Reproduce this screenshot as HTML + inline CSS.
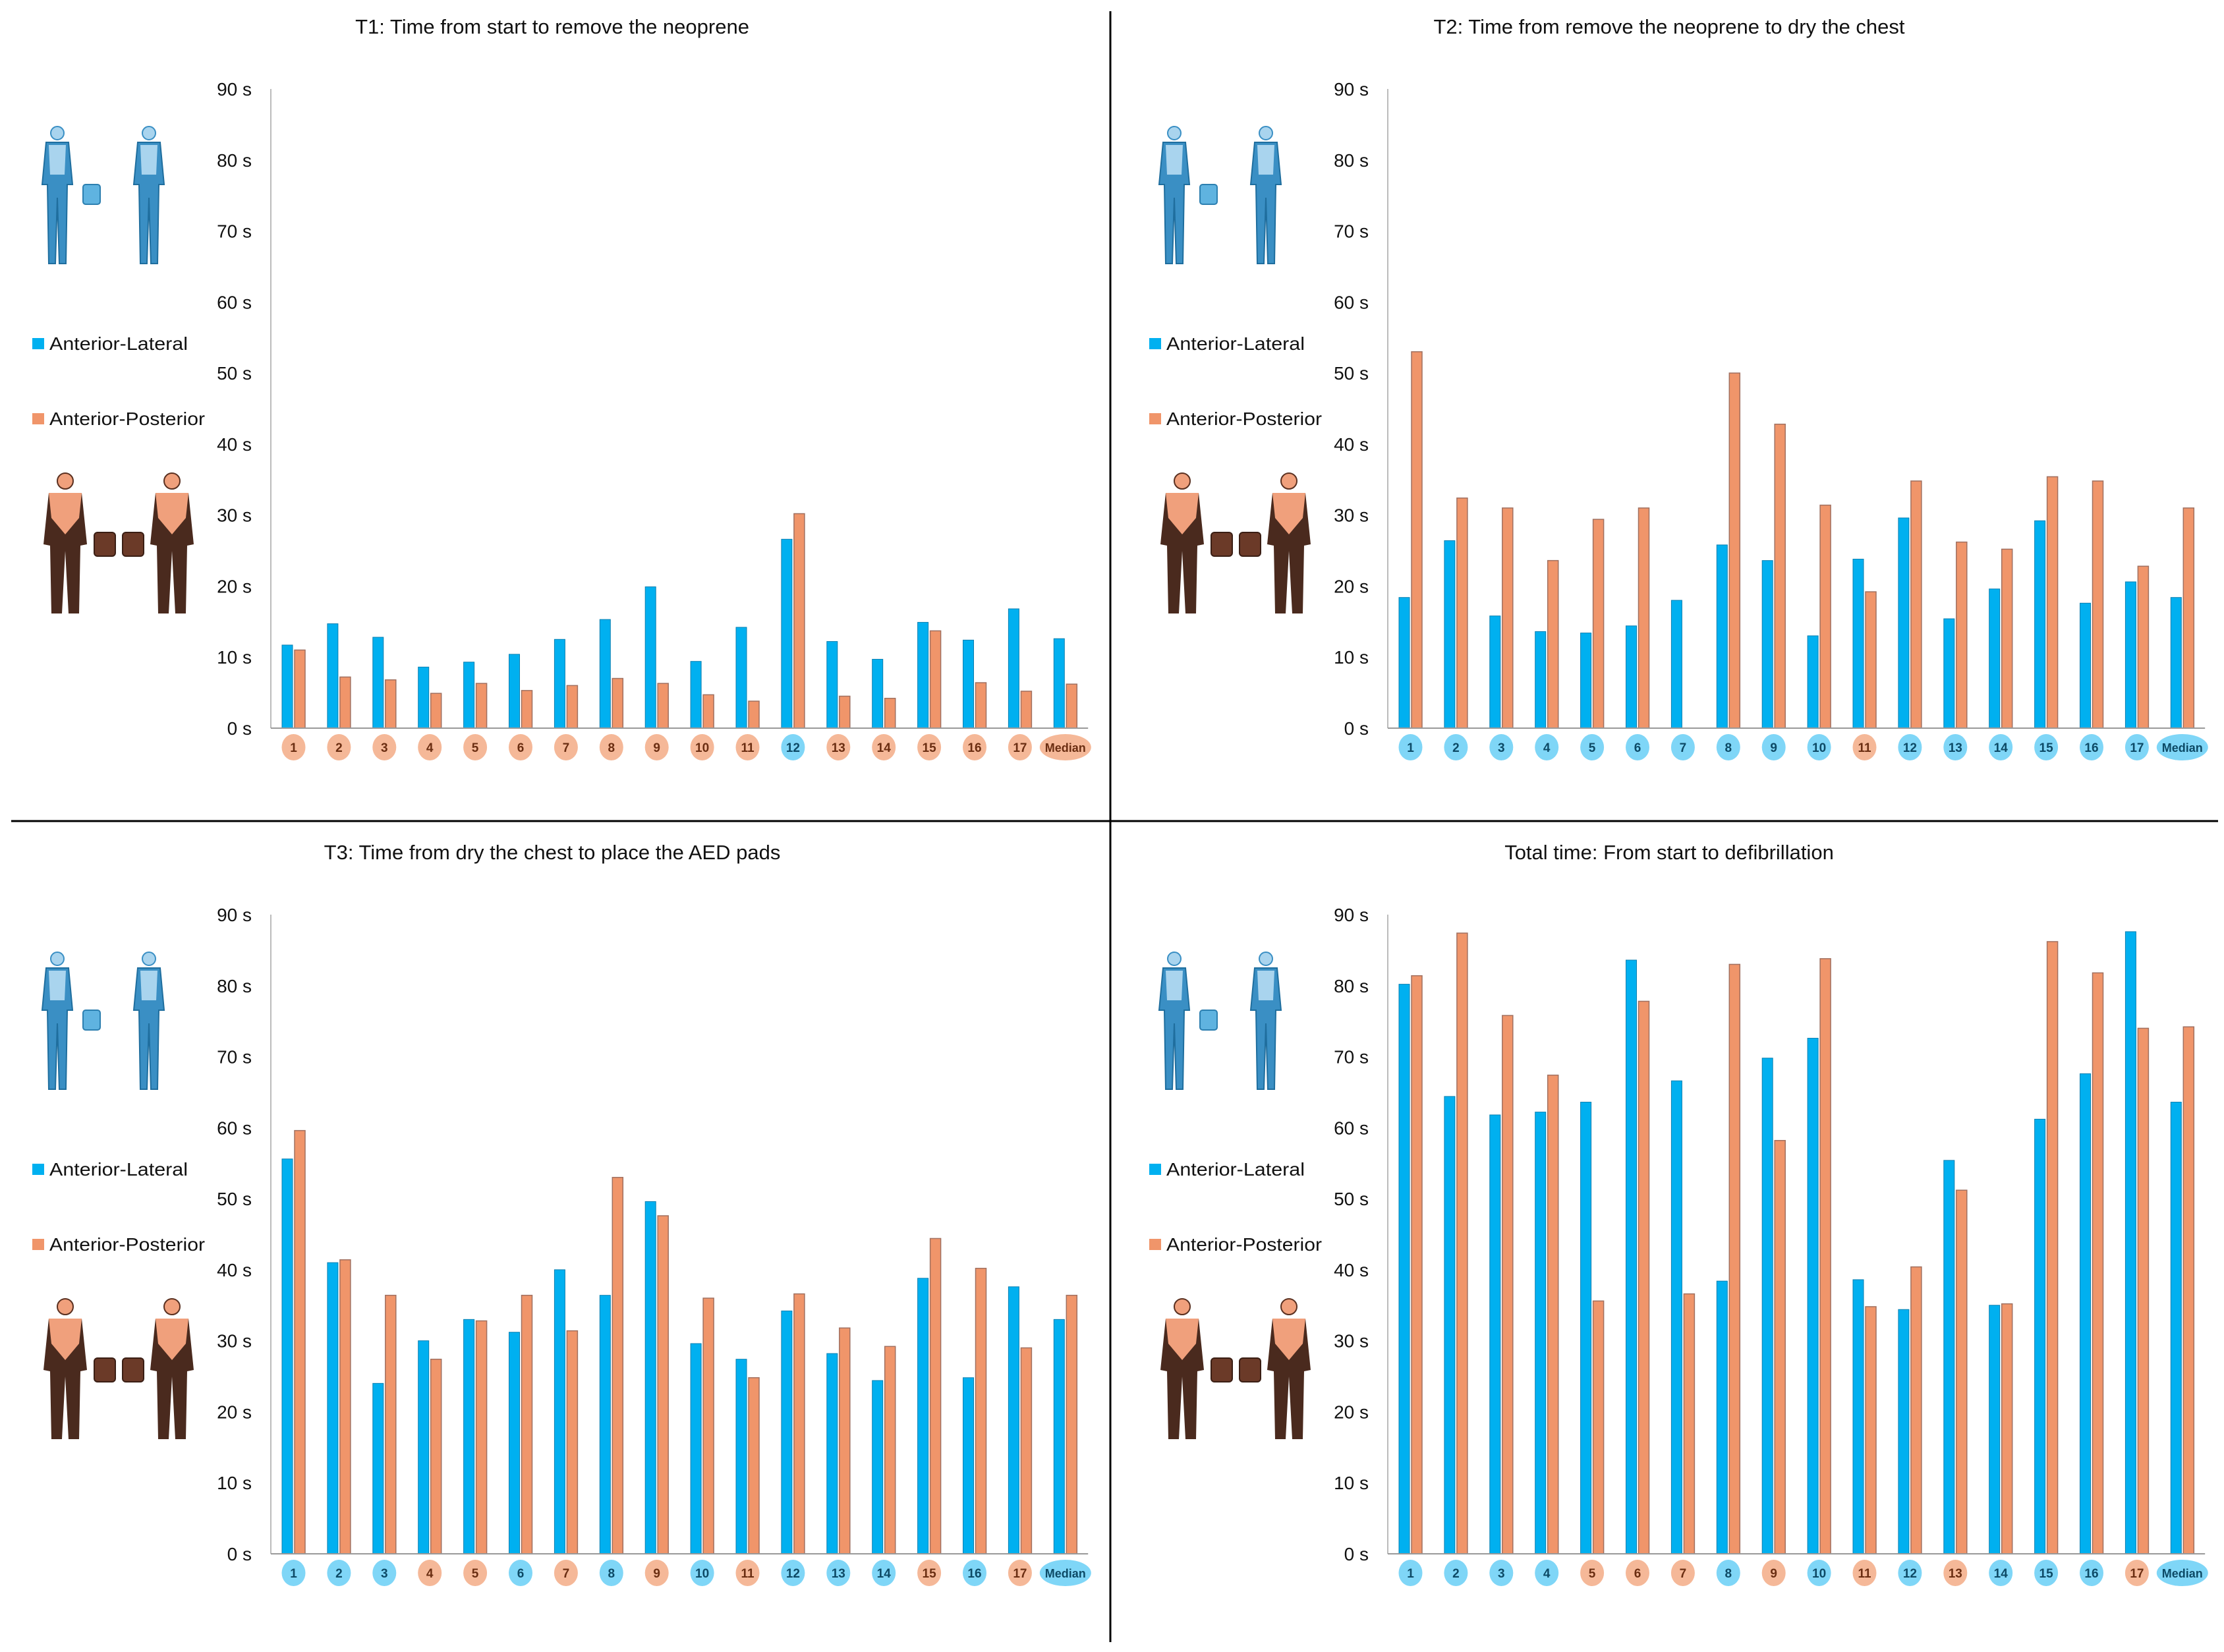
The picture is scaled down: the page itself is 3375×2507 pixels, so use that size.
<!DOCTYPE html>
<html><head><meta charset="utf-8"><style>
html,body{margin:0;padding:0;background:#fff;}
svg{display:block;font-family:"Liberation Sans",sans-serif;}
</style></head><body>
<svg id="fig" width="3375" height="2507" viewBox="0 0 3375 2507" xmlns="http://www.w3.org/2000/svg">
<rect x="0" y="0" width="3375" height="2507" fill="#fff"/>
<line x1="1685" y1="17" x2="1685" y2="2492" stroke="#000" stroke-width="3"/>
<line x1="17" y1="1246" x2="3366" y2="1246" stroke="#000" stroke-width="3"/>
<g id="panels"></g>
</svg>
<script>
const categories = ["1","2","3","4","5","6","7","8","9","10","11","12","13","14","15","16","17","Median"];
const yTicks = [0,10,20,30,40,50,60,70,80,90];
const titles = ["T1: Time from start to remove the neoprene","T2: Time from remove the neoprene to dry the chest","T3: Time from dry the chest to place the AED pads","Total time: From start to defibrillation"];
const t1Lateral = [11.7,14.7,12.8,8.6,9.3,10.4,12.5,15.3,19.9,9.4,14.2,26.6,12.2,9.7,14.9,12.4,16.8,12.6];
const t1Posterior = [11.0,7.2,6.8,4.9,6.3,5.3,6.0,7.0,6.3,4.7,3.8,30.2,4.5,4.2,13.7,6.4,5.2,6.2];
const t2Lateral = [18.4,26.4,15.8,13.6,13.4,14.4,18.0,25.8,23.6,13.0,23.8,29.6,15.4,19.6,29.2,17.6,20.6,18.4];
const t2Posterior = [53.0,32.4,31.0,23.6,29.4,31.0,0,50.0,42.8,31.4,19.2,34.8,26.2,25.2,35.4,34.8,22.8,31.0];
const t3Lateral = [55.6,41.0,24.0,30.0,33.0,31.2,40.0,36.4,49.6,29.6,27.4,34.2,28.2,24.4,38.8,24.8,37.6,33.0];
const t3Posterior = [59.6,41.4,36.4,27.4,32.8,36.4,31.4,53.0,47.6,36.0,24.8,36.6,31.8,29.2,44.4,40.2,29.0,36.4];
const totLateral = [80.2,64.4,61.8,62.2,63.6,83.6,66.6,38.4,69.8,72.6,38.6,34.4,55.4,35.0,61.2,67.6,87.6,63.6];
const totPosterior = [81.4,87.4,75.8,67.4,35.6,77.8,36.6,83.0,58.2,83.8,34.8,40.4,51.2,35.2,86.2,81.8,74.0,74.2];
const t1Badges = ["o","o","o","o","o","o","o","o","o","o","o","b","o","o","o","o","o","o"];
const t2Badges = ["b","b","b","b","b","b","b","b","b","b","o","b","b","b","b","b","b","b"];
const t3Badges = ["b","b","b","o","o","b","o","b","o","b","o","b","b","b","o","b","o","b"];
const totBadges = ["b","b","b","b","o","o","o","b","o","b","o","b","o","b","b","b","o","b"];

const NS="http://www.w3.org/2000/svg";
const BLUE="#00B0F0", ORANGE="#F0956A";
function mk(tag, attrs, parent){const e=document.createElementNS(NS,tag);for(const k in attrs)e.setAttribute(k,attrs[k]);if(parent)parent.appendChild(e);return e;}

function figuresBlue(g, ox, oy){
  const c="#3A8FC4", f="#A9D4EE";
  [[0,0],[139,0]].forEach((p,i)=>{
    const x=ox+p[0], y=oy;
    const fig=mk('g',{},g);
    
    
    mk('circle',{cx:x+33,cy:y+12,r:10,fill:f,stroke:c,'stroke-width':2},fig);
    mk('path',{d:`M${x+16} ${y+26} L${x+50} ${y+26} L${x+56} ${y+90} L${x+48} ${y+90} L${x+46} ${y+210} L${x+36} ${y+210} L${x+33} ${y+110} L${x+30} ${y+210} L${x+20} ${y+210} L${x+18} ${y+90} L${x+10} ${y+90} Z`,fill:c,stroke:"#1F6E9E",'stroke-width':2},fig);
    mk('path',{d:`M${x+20} ${y+30} L${x+46} ${y+30} L${x+44} ${y+75} L${x+22} ${y+75} Z`,fill:f},fig);
  });
  const box=mk('rect',{x:ox+72,y:oy+90,width:26,height:30,rx:4,fill:"#5FB3E0",stroke:"#2C7FB0",'stroke-width':2},g);
  
  
}
function figuresOrange(g, ox, oy){
  const skin="#F0A07C", suit="#4A2A1E";
  [[0,0],[162,0]].forEach((p,i)=>{
    const x=ox+p[0], y=oy;
    const fig=mk('g',{},g);
    
    
    mk('circle',{cx:x+33,cy:y+14,r:12,fill:skin,stroke:"#5A3020",'stroke-width':2},fig);
    mk('path',{d:`M${x+8} ${y+32} L${x+58} ${y+32} L${x+66} ${y+110} L${x+56} ${y+112} L${x+54} ${y+215} L${x+38} ${y+215} L${x+33} ${y+120} L${x+28} ${y+215} L${x+12} ${y+215} L${x+10} ${y+112} L${x+0} ${y+110} Z`,fill:suit},fig);
    mk('path',{d:`M${x+8} ${y+32} L${x+58} ${y+32} L${x+54} ${y+70} L${x+33} ${y+95} L${x+12} ${y+70} Z`,fill:skin},fig);
  });
  const b1=mk('rect',{x:ox+77,y:oy+92,width:32,height:36,rx:5,fill:"#6B3A28",stroke:"#3A1E14",'stroke-width':2},g);
  
  
  const b2=mk('rect',{x:ox+120,y:oy+92,width:32,height:36,rx:5,fill:"#6B3A28",stroke:"#3A1E14",'stroke-width':2},g);
  
  
}

function drawPanel(idx, dx, dy, lat, post, badges){
  const root=document.getElementById('panels');
  const g=mk('g',{},root);
  
  
  const axisX=411+dx, zeroY=1105+dy, topY=135+dy, band=68.9;
  const y=v=>zeroY-(v/90)*(zeroY-topY);
  const xBand=i=>axisX+i*band;
  const t=mk('text',{x:838+dx,y:51+dy,'text-anchor':'middle','font-size':31,fill:'#111'},g);
  t.textContent=titles[idx];
  
  
  yTicks.forEach(v=>{
    const tk=mk('text',{x:382+dx,y:y(v)+10,'text-anchor':'end','font-size':28,fill:'#111'},g);
    tk.textContent=v+' s';
    
    
  });
  const ya=mk('line',{x1:axisX,y1:topY,x2:axisX,y2:zeroY,stroke:'#bbb','stroke-width':2},g);
  
  
  categories.forEach((c,i)=>{
    const b=mk('rect',{x:xBand(i)+17,y:y(lat[i]),width:16,height:zeroY-y(lat[i]),fill:BLUE,stroke:'#0a7fb0','stroke-width':1},g);
    
    
    if(post[i]>0){
      const o=mk('rect',{x:xBand(i)+36,y:y(post[i]),width:16,height:zeroY-y(post[i]),fill:ORANGE,stroke:'#a07060','stroke-width':1.5},g);
      
      
    }
    const cx=xBand(i)+34.5, cy=zeroY+29, isB=badges[i]==='b', med=c==='Median';
    const e=mk('ellipse',{cx:cx,cy:cy,rx:med?39:18,ry:20,fill:isB?'#7FD6F7':'#F5B898'},g);
    
    
    const lt=mk('text',{x:cx,y:cy+7,'text-anchor':'middle','font-size':med?18:19,'font-weight':'bold',fill:isB?'#0D4A66':'#6B2E12'},g);
    lt.textContent=c;
    
    
  });
  const xa=mk('line',{x1:axisX,y1:zeroY,x2:axisX+18*band,y2:zeroY,stroke:'#999','stroke-width':2},g);
  
  
  const l1=mk('rect',{x:49+dx,y:513+dy,width:18,height:17,fill:BLUE},g);
  
  
  const lt1=mk('text',{x:75+dx,y:531+dy,'font-size':28,fill:'#111',textLength:210,lengthAdjust:'spacingAndGlyphs'},g);
  lt1.textContent='Anterior-Lateral';
  
  
  const l2=mk('rect',{x:49+dx,y:627+dy,width:18,height:17,fill:ORANGE},g);
  
  
  const lt2=mk('text',{x:75+dx,y:645+dy,'font-size':28,fill:'#111',textLength:236,lengthAdjust:'spacingAndGlyphs'},g);
  lt2.textContent='Anterior-Posterior';
  
  
  figuresBlue(g, 54+dx, 190+dy);
  figuresOrange(g, 66+dx, 716+dy);
}
drawPanel(0,0,0,t1Lateral,t1Posterior,t1Badges);
drawPanel(1,1695,0,t2Lateral,t2Posterior,t2Badges);
drawPanel(2,0,1253,t3Lateral,t3Posterior,t3Badges);
drawPanel(3,1695,1253,totLateral,totPosterior,totBadges);
</script>
</body></html>
